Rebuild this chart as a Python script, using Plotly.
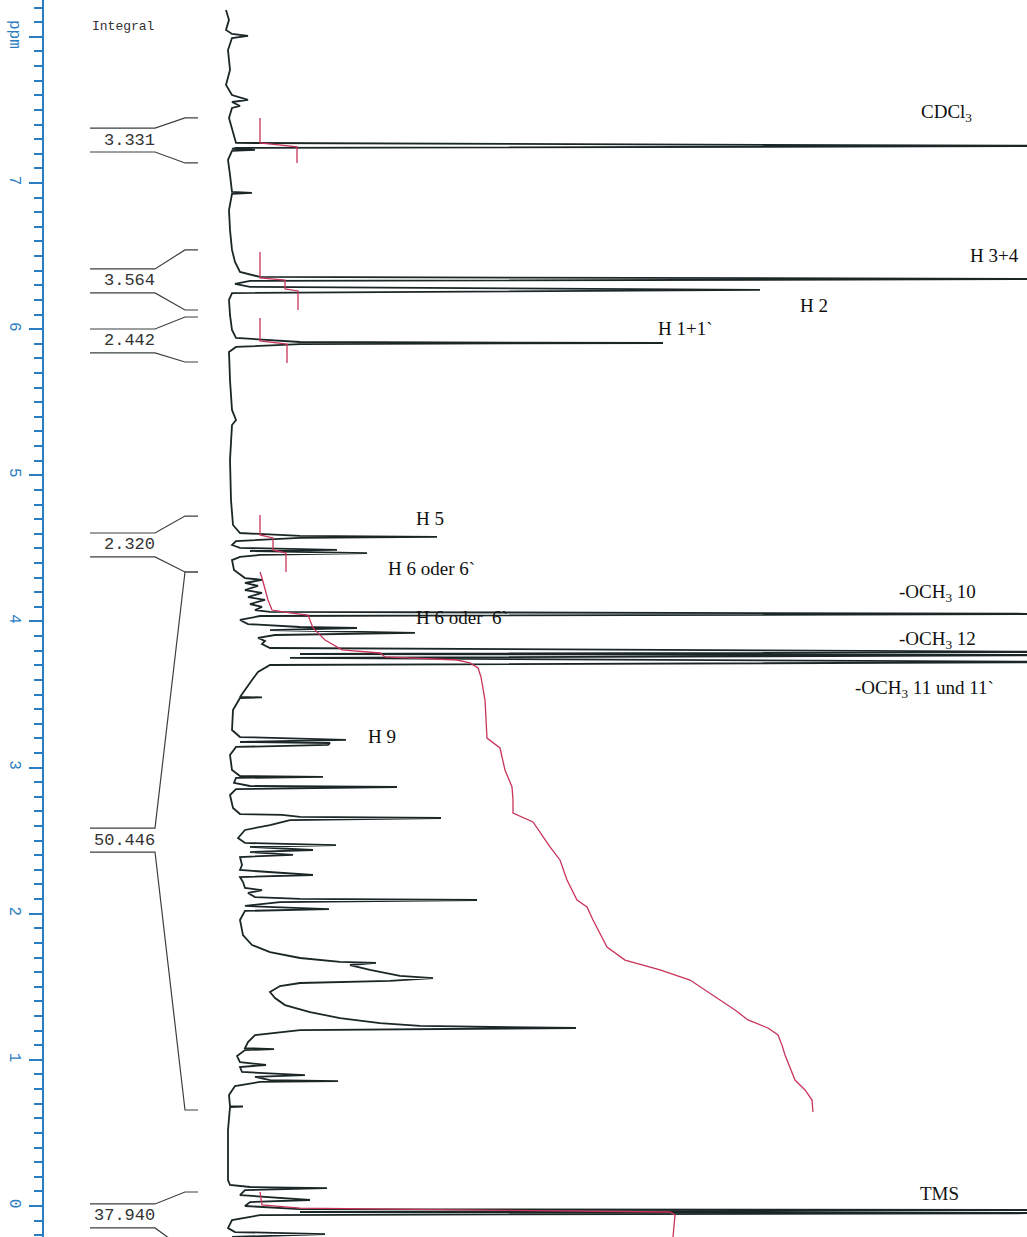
import plotly.graph_objects as go

# 1H-NMR spectrum (ppm on the vertical axis, intensity to the right)
spec_ppm = [8.184, 8.116, 8.047, 8.020, 8.006, 7.992, 7.910, 7.773, 7.671, 7.602, 7.568, 7.554, 7.527, 7.513,
            7.445, 7.363, 7.274, 7.253, 7.240, 7.233, 7.226, 7.219, 7.158, 7.055, 6.939, 6.932, 6.925, 6.815,
            6.679, 6.542, 6.460, 6.391, 6.357, 6.343, 6.330, 6.309, 6.289, 6.268, 6.247, 6.200, 6.097, 5.994,
            5.940, 5.912, 5.905, 5.898, 5.878, 5.844, 5.652, 5.447, 5.378, 5.344, 5.105, 4.831, 4.660, 4.605,
            4.585, 4.578, 4.571, 4.550, 4.523, 4.503, 4.489, 4.482, 4.468, 4.455, 4.441, 4.420, 4.352, 4.297,
            4.284, 4.263, 4.243, 4.215, 4.195, 4.167, 4.147, 4.119, 4.099, 4.078, 4.065, 4.051, 4.037, 4.010,
            3.982, 3.962, 3.955, 3.941, 3.921, 3.907, 3.887, 3.866, 3.846, 3.818, 3.791, 3.777, 3.770, 3.750,
            3.722, 3.702, 3.654, 3.599, 3.531, 3.483, 3.480, 3.476, 3.394, 3.257, 3.209, 3.189, 3.175, 3.168,
            3.155, 3.141, 3.086, 2.983, 2.942, 2.936, 2.929, 2.895, 2.874, 2.867, 2.853, 2.812, 2.723, 2.682,
            2.676, 2.662, 2.655, 2.641, 2.607, 2.573, 2.518, 2.484, 2.470, 2.457, 2.436, 2.422, 2.402, 2.388,
            2.333, 2.299, 2.265, 2.251, 2.217, 2.176, 2.162, 2.142, 2.114, 2.101, 2.094, 2.080, 2.053, 2.032,
            2.019, 1.957, 1.854, 1.786, 1.738, 1.697, 1.670, 1.663, 1.649, 1.615, 1.574, 1.560, 1.540, 1.526,
            1.505, 1.464, 1.423, 1.375, 1.327, 1.286, 1.252, 1.232, 1.218, 1.204, 1.170, 1.122, 1.081, 1.074,
            1.067, 1.026, 0.985, 0.965, 0.951, 0.917, 0.896, 0.883, 0.862, 0.855, 0.849, 0.821, 0.760, 0.684,
            0.681, 0.677, 0.520, 0.315, 0.178, 0.144, 0.130, 0.123, 0.109, 0.075, 0.041, 0.027, 0.000, -0.021,
            -0.027, -0.041, -0.048, -0.062, -0.096, -0.151, -0.178, -0.192, -0.212]
spec_int = [226, 229, 226, 232, 248, 232, 228, 230, 226, 232, 248, 232, 240, 232,
            229, 232, 236, 1100, 236, 232, 255, 232, 228, 230, 232, 252, 232, 229,
            230, 232, 235, 240, 260, 1100, 250, 235, 250, 760, 232, 229, 230, 232,
            236, 300, 663, 300, 236, 229, 230, 232, 236, 232, 230, 231, 233, 240,
            300, 437, 300, 236, 232, 240, 337, 250, 367, 260, 240, 232, 234, 245,
            262, 245, 258, 245, 262, 248, 265, 250, 262, 255, 270, 1100, 260, 240,
            248, 300, 357, 270, 415, 275, 258, 265, 262, 270, 1100, 300, 1100, 290,
            1100, 270, 258, 252, 245, 240, 262, 240, 233, 232, 240, 346, 240, 330,
            328, 236, 230, 232, 240, 323, 236, 234, 250, 397, 236, 230, 233, 240,
            282, 300, 441, 290, 270, 245, 238, 245, 336, 250, 313, 250, 293, 240,
            242, 240, 313, 240, 243, 245, 262, 248, 255, 300, 477, 280, 245, 329,
            245, 240, 243, 252, 270, 300, 340, 376, 350, 370, 400, 433, 390, 300,
            280, 270, 275, 285, 310, 340, 380, 420, 576, 300, 255, 248, 245, 274,
            245, 237, 240, 266, 240, 242, 305, 255, 270, 338, 260, 235, 229, 230,
            243, 230, 228, 228, 228, 230, 250, 327, 245, 240, 310, 250, 245, 300,
            1100, 300, 1100, 260, 232, 228, 235, 325, 232]

# integral (red) trace, segments separated by None
integ_ppm = [7.445, 7.274, 7.247, 7.137, None,
             6.528, 6.350, 6.336, 6.275, 6.261, 6.131, None,
             6.076, 5.919, 5.898, 5.769, None,
             4.728, 4.592, 4.571, 4.489, 4.468, 4.338, None,
             4.338, 4.297, 4.147, 4.078, 4.058, 4.044, 3.955, 3.873, 3.805, 3.784, 3.757, 3.736, 3.716,
             3.681, 3.620, 3.462, 3.202, 3.134, 2.983, 2.867, 2.778, 2.689, 2.628, 2.525, 2.457, 2.368,
             2.231, 2.094, 2.046, 1.957, 1.772, 1.683, 1.615, 1.546, 1.478, 1.410, 1.341, 1.273, 1.218,
             1.170, 1.101, 1.033, 0.862, 0.794, 0.725, 0.643, None,
             0.096, 0.007, -0.014, -0.041, -0.062, -0.212]
integ_val = [260, 260, 297, 297, None,
             260, 260, 285, 285, 298, 298, None,
             260, 260, 287, 287, None,
             260, 260, 273, 273, 286, 286, None,
             260, 262, 268, 272, 290, 308, 313, 325, 342, 380, 385, 457, 470,
             478, 481, 485, 487, 500, 505, 512, 513, 513, 533, 543, 550, 560,
             567, 577, 587, 593, 607, 625, 660, 690, 705, 720, 735, 748, 768,
             778, 782, 785, 795, 805, 812, 813, None,
             260, 262, 300, 670, 675, 673]

# integral brackets
integral_labels = ["3.331", "3.564", "2.442", "2.320", "50.446", "37.940"]
integral_label_ppm = [7.294, 6.330, 5.919, 4.523, 2.504, -0.068]
integral_start = [7.445, 6.542, 6.083, 4.721, 4.338, 0.096]
integral_end = [7.137, 6.131, 5.775, 4.338, 0.657, -0.30]

# peak assignments
peak_labels = ["CDCl<sub>3</sub>", "H 3+4", "H 2", "H 1+1`", "H 5", "H 6 oder 6`",
               "-OCH<sub>3</sub> 10", "H 6 oder  6`", "-OCH<sub>3</sub> 12",
               "-OCH<sub>3</sub> 11 und 11`", "H 9", "TMS"]
peak_label_ppm = [7.479, 6.501, 6.165, 6.001, 4.701, 4.359, 4.195, 4.030, 3.873, 3.538, 3.216, 0.089]
peak_label_x = [946, 994, 814, 685, 430, 431, 937, 462, 937, 924, 382, 939]

tick_vals = [0, 1, 2, 3, 4, 5, 6, 7, 8]
tick_text = ["0", "1", "2", "3", "4", "5", "6", "7", "ppm"]

fig = go.Figure()
fig.add_trace(go.Scatter(x=spec_int, y=spec_ppm, mode="lines",
                         line=dict(color="#1b2626", width=1.8), hoverinfo="skip"))
fig.add_trace(go.Scatter(x=integ_val, y=integ_ppm, mode="lines", connectgaps=False,
                         line=dict(color="#c8345a", width=1.3), hoverinfo="skip"))

dy = 0.082
bx, by = [], []
for lp, s, e in zip(integral_label_ppm, integral_start, integral_end):
    bx += [90, 155, 185, 198, None, 90, 155, 185, 198, None]
    by += [lp + dy, lp + dy, s, s, None, lp - dy, lp - dy, e, e, None]
fig.add_trace(go.Scatter(x=bx, y=by, mode="lines", connectgaps=False,
                         line=dict(color="#3a4040", width=1.2), hoverinfo="skip"))

for lab, lp in zip(integral_labels, integral_label_ppm):
    fig.add_annotation(x=157, y=lp, text=lab, showarrow=False, xanchor="right", yanchor="middle",
                       font=dict(family="Liberation Mono", size=17, color="#333"))
fig.add_annotation(x=90, y=8.068, text="Integral", showarrow=False, xanchor="left", yanchor="middle",
                   font=dict(family="Liberation Mono", size=13, color="#333"))

for lab, lp, lx in zip(peak_labels, peak_label_ppm, peak_label_x):
    fig.add_annotation(x=lx, y=lp, text=lab, showarrow=False, xanchor="center", yanchor="middle",
                       font=dict(family="Liberation Serif", size=19, color="#111"))

fig.update_layout(
    width=1027, height=1237, margin=dict(l=0, r=0, t=0, b=0),
    paper_bgcolor="white", plot_bgcolor="white", showlegend=False, hovermode=False,
    xaxis=dict(range=[0, 1027], visible=False),
    yaxis=dict(range=[-0.212, 8.252], anchor="free", position=0.042, side="left",
               showgrid=False, zeroline=False, showline=True, linecolor="#2a7dc0", linewidth=2,
               ticks="outside", ticklen=13, tickwidth=2, tickcolor="#2a7dc0",
               tickvals=tick_vals, ticktext=tick_text, tickangle=90,
               tickfont=dict(family="Liberation Mono", size=16, color="#2a7dc0"),
               minor=dict(dtick=0.1, tick0=0, ticks="outside", ticklen=8, tickwidth=1.5,
                          tickcolor="#2a7dc0", showgrid=False)),
)

fig.write_html("out.html", config={"displayModeBar": False},
               post_script="document.body.style.margin='0';document.body.style.overflow='hidden';")
